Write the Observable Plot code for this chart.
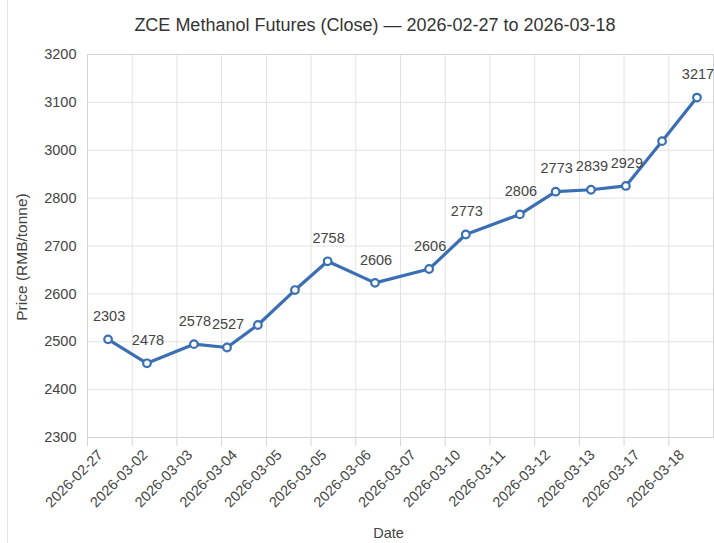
<!DOCTYPE html>
<html>
<head>
<meta charset="utf-8">
<script src="https://cdn.jsdelivr.net/npm/d3@7"></script>
<script src="https://cdn.jsdelivr.net/npm/@observablehq/plot@0.6"></script>
<style>
  html, body { margin: 0; padding: 0; background: #fff; }
  #wrap { position: relative; width: 714px; height: 543px; overflow: hidden; font-family: "Liberation Sans", Arial, sans-serif; }
  #edge { position: absolute; left: 7px; top: 0; width: 1px; height: 543px; background: #e3e3e3; }
  #title { height: 35px; padding-top: 5px; padding-left: 36px; text-align: center; font-size: 18px; line-height: 40px; color: #333; box-sizing: content-box; }
  #title span { display: inline-block; line-height: 26px; }
</style>
</head>
<body>
<div id="wrap">
  <div id="edge"></div>
  <div id="title"><span>ZCE Methanol Futures (Close) — 2026-02-27 to 2026-03-18</span></div>
  <div id="chart"></div>
</div>
<script>
// Category tick labels on the x axis (one per grid column)
const dateLabels = ["2026-02-27","2026-03-02","2026-03-03","2026-03-04","2026-03-05","2026-03-05","2026-03-06","2026-03-07","2026-03-10","2026-03-11","2026-03-12","2026-03-13","2026-03-17","2026-03-18"];
// y-axis tick values as printed (equally spaced gridlines; 2900 is absent)
const yTickValues = [2300, 2400, 2500, 2600, 2700, 2800, 3000, 3100, 3200];
// point positions along the x axis (in column units) and plotted close values
const pointPos   = [0.46, 1.33, 2.38, 3.12, 3.81, 4.64, 5.37, 6.43, 7.64, 8.46, 9.67, 10.47, 11.26, 12.04, 12.85, 13.63];
const pointClose = [2505, 2455, 2495, 2488, 2535, 2608, 2668, 2623, 2652, 2724, 2766, 2827, 2835, 2851, 3019, 3110];
// value labels printed above points (null = no label)
const pointLabel = ["2303","2478","2578","2527",null,null,"2758","2606","2606","2773","2806","2773","2839","2929",null,"3217"];

const data = pointPos.map((p, i) => ({pos: p, close: pointClose[i], label: pointLabel[i]}));
const labelled = data.filter(d => d.label != null);

const lineColor = "#3a6fb3";
const textColor = "#444";
const nCols = dateLabels.length;

const chart = Plot.plot({
  width: 714,
  height: 503,
  marginTop: 14,
  marginBottom: 106,
  marginLeft: 87,
  marginRight: 1,
  style: {fontFamily: "Liberation Sans, Arial, sans-serif", fontSize: "14.5px", color: textColor, background: "transparent"},
  x: {type: "linear", domain: [0, nCols], label: null},
  y: {type: "linear", domain: yTickValues, label: null},
  marks: [
    Plot.gridX({ticks: d3.range(nCols + 1), stroke: "#e2e2e2", strokeOpacity: 1}),
    Plot.gridY({ticks: yTickValues, stroke: "#e2e2e2", strokeOpacity: 1}),
    Plot.frame({stroke: "#d4d4d4"}),
    Plot.axisY({ticks: yTickValues, tickSize: 0, tickPadding: 11, tickFormat: d => String(d), fill: textColor, fontSize: 14.5, label: null}),
    Plot.axisX({ticks: d3.range(nCols), tickSize: 9, stroke: "#d4d4d4", text: null, label: null}),
    Plot.axisX({ticks: d3.range(nCols), tickFormat: i => dateLabels[i], tickSize: 0,
      tickRotate: -45, textAnchor: "end", lineAnchor: "middle", tickPadding: 15, dx: 13, fill: textColor, fontSize: 14.5, label: null}),
    Plot.text(["Price (RMB/tonne)"], {frameAnchor: "left", textAnchor: "middle", rotate: -90, dx: -65, dy: 11, fill: textColor, fontSize: 15.5, letterSpacing: 0.8}),
    Plot.text(["Date"], {frameAnchor: "bottom", textAnchor: "middle", dx: -12, dy: 100, lineAnchor: "bottom", fill: textColor, fontSize: 14.5}),
    Plot.line(data, {x: "pos", y: "close", stroke: lineColor, strokeWidth: 3.2, strokeLinejoin: "round"}),
    Plot.dot(data, {x: "pos", y: "close", r: 3.8, fill: "white", stroke: lineColor, strokeWidth: 2.2}),
    Plot.text(labelled, {x: "pos", y: "close", text: "label", dy: -23, dx: 1, fill: textColor, fontSize: 14.5})
  ]
});
document.getElementById("chart").appendChild(chart);
</script>
</body>
</html>
